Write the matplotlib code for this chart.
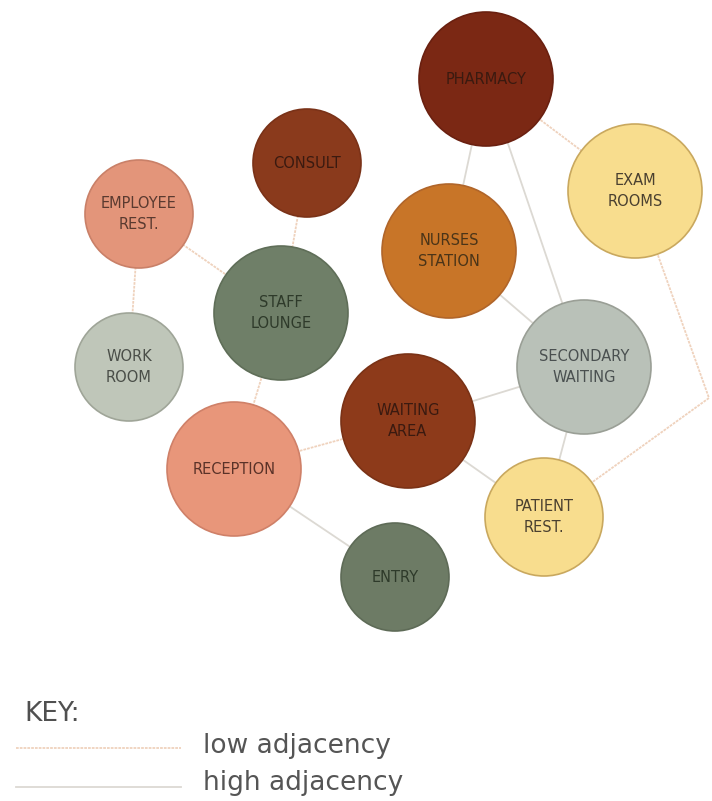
import matplotlib
matplotlib.use("Agg")
import matplotlib.pyplot as plt
from matplotlib.patches import Circle

# ---- data ----
names = ["PHARMACY", "EXAM\nROOMS", "NURSES\nSTATION", "CONSULT", "EMPLOYEE\nREST.",
         "STAFF\nLOUNGE", "WORK\nROOM", "SECONDARY\nWAITING", "WAITING\nAREA",
         "RECEPTION", "PATIENT\nREST.", "ENTRY"]
node_x = [486, 635, 449, 307, 139, 281, 129, 584, 408, 234, 544, 395]
node_y = [79, 191, 251, 163, 214, 313, 367, 367, 421, 469, 517, 577]
node_r = [67, 67, 67, 54, 54, 67, 54, 67, 67, 67, 59, 54]
node_colors = ["#7b2814", "#f8dd8e", "#c87528", "#8a3a1c", "#e3957a",
               "#6f7f68", "#bfc6b9", "#b9c1b8", "#8d3a1a",
               "#e8967a", "#f8dd8e", "#6d7b65"]
edge_colors_node = ["#6a2010", "#c9a85e", "#b0652a", "#7a3218", "#c98068",
                    "#5f6e58", "#9fa598", "#9a9f96", "#7a3216",
                    "#cf8068", "#c9a85e", "#5e6b57"]
text_colors = ["#3a1a10", "#4a4030", "#4a3418", "#3a1a10", "#5a3a30",
               "#2e3a2a", "#4a4e48", "#4a5050", "#3a1a10",
               "#5a3228", "#4a4030", "#2e3a2a"]

# edges: (from, to, kind)  kind: "low" / "high"
edges = [(0, 1, "low"), (0, 2, "high"), (0, 7, "high"), (2, 7, "high"),
         (3, 5, "low"), (4, 5, "low"), (4, 6, "low"), (5, 9, "low"),
         (8, 7, "high"), (9, 8, "low"), (8, 10, "high"), (7, 10, "high"),
         (9, 11, "high"), (1, 10, "low")]
bend_points = {(1, 10): (709, 398)}

legend_labels = ["low adjacency", "high adjacency"]
legend_kinds = ["low", "high"]

# ---- styling ----
edge_style = {"low": dict(color="#efd2bd", lw=1.3, ls=(0, (1.5, 0.6))),
              "high": dict(color="#dcd9d3", lw=1.3, ls="-")}

W, H = 712, 801
fig = plt.figure(figsize=(W / 100, H / 100), dpi=100)
ax = fig.add_axes([0, 0, 1, 1])
ax.set_xlim(0, W)
ax.set_ylim(H, 0)
ax.set_aspect("equal")
ax.axis("off")

for a, b, kind in edges:
    xs = [node_x[a]]
    ys = [node_y[a]]
    if (a, b) in bend_points:
        bx, by = bend_points[(a, b)]
        xs.append(bx)
        ys.append(by)
    xs.append(node_x[b])
    ys.append(node_y[b])
    ax.plot(xs, ys, zorder=1, **edge_style[kind])

for i, n in enumerate(names):
    c = Circle((node_x[i], node_y[i]), node_r[i], facecolor=node_colors[i],
               edgecolor=edge_colors_node[i], lw=1.2, zorder=2)
    ax.add_patch(c)
    ax.text(node_x[i], node_y[i], n, ha="center", va="center", fontsize=10.5,
            color=text_colors[i], family="DejaVu Sans", linespacing=1.5, zorder=3)

ax.text(24, 714, "KEY:", fontsize=19, color="#505050", family="DejaVu Sans",
        ha="left", va="center")
leg_y = [748, 787]
txt_y = [746, 783]
for lab, kind, y, ty in zip(legend_labels, legend_kinds, leg_y, txt_y):
    ax.plot([16, 181], [y, y], **edge_style[kind])
    ax.text(203, ty, lab, fontsize=19, color="#555555", family="DejaVu Sans",
            ha="left", va="center")

fig.savefig("out.png", dpi=100, facecolor="white")
